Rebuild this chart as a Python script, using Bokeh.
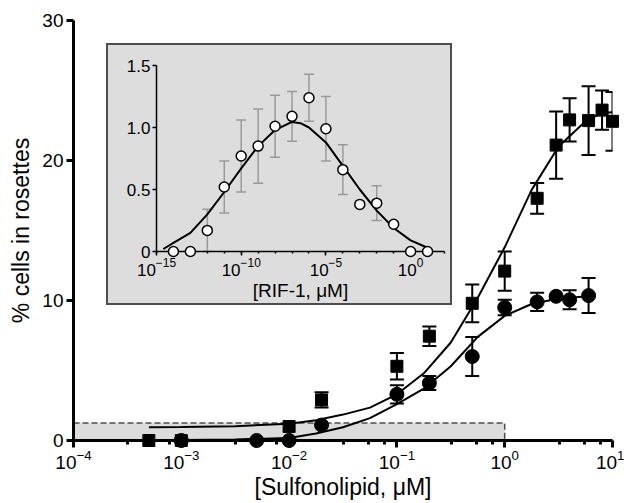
import numpy as np
from bokeh.plotting import figure
from bokeh.models import Range1d, FixedTicker, Whisker, TeeHead, ColumnDataSource, GridBox, Div
from bokeh.embed import file_html
from bokeh.resources import INLINE

# ---------------- data ----------------
# main panel: squares series
sq_conc = [5e-4, 1e-3, 1e-2, 2e-2, 0.1, 0.2, 0.5, 1, 2, 3, 4, 6, 8, 10]
sq_mean = [0, 0, 1.0, 2.9, 5.3, 7.45, 9.8, 12.1, 17.3, 21.1, 22.9, 22.85, 23.6, 22.8]
sq_err = [0, 0, 0, 0.55, 0.95, 0.7, 1.35, 1.4, 1.1, 2.4, 1.55, 2.45, 1.4, 2.1]
# main panel: circles series
ci_conc = [1e-3, 5e-3, 1e-2, 2e-2, 0.1, 0.2, 0.5, 1, 2, 3, 4, 6]
ci_mean = [0, 0, 0, 1.1, 3.3, 4.1, 6.0, 9.5, 9.9, 10.3, 10.05, 10.35]
ci_err = [0, 0, 0, 0, 0.65, 0.5, 1.4, 0.55, 0.65, 0, 0.68, 1.25]
# fitted curves (log10 concentration, value)
sq_fit_log = [-3.3, -3.0, -2.5, -2.0, -1.75, -1.5, -1.25, -1.0, -0.75, -0.5, -0.25, 0.0, 0.25, 0.5, 0.75, 0.9, 1.0]
sq_fit_val = [0.95, 0.96, 1.02, 1.2, 1.45, 1.85, 2.35, 3.3, 4.8, 7.0, 10.2, 13.8, 17.9, 21.0, 22.8, 23.4, 23.45]
ci_fit_log = [-3.3, -3.0, -2.5, -2.0, -1.75, -1.5, -1.25, -1.0, -0.75, -0.5, -0.25, 0.0, 0.25, 0.5, 0.78]
ci_fit_val = [0.02, 0.04, 0.08, 0.18, 0.5, 0.95, 1.6, 2.6, 3.7, 5.3, 7.4, 8.9, 9.75, 10.15, 10.3]
# shaded region on main panel
shade_conc = [1e-4, 1.0]
shade_level = [0.0, 1.25]
# main axes
main_x_ticks = [1e-4, 1e-3, 1e-2, 1e-1, 1e0, 1e1]
main_y_ticks = [0, 10, 20, 30]

# inset: RIF-1
rif_conc = [1e-14, 1e-13, 1e-12, 1e-11, 1e-10, 1e-9, 1e-8, 1e-7, 1e-6, 1e-5, 1e-4, 1e-3, 1e-2, 1e-1, 1e0, 1e1]
rif_mean = [0, 0, 0.17, 0.52, 0.77, 0.85, 1.01, 1.09, 1.24, 0.99, 0.66, 0.38, 0.39, 0.22, 0, 0]
rif_err = [0, 0, 0.17, 0.21, 0.29, 0.30, 0.25, 0.20, 0.19, 0.26, 0.20, 0, 0.14, 0, 0, 0]
rif_fit_log = [-14.6, -14, -13, -12, -11, -10, -9, -8, -7, -6.5, -6, -5, -4, -3, -2, -1, 0, 1]
rif_fit_val = [0.02, 0.07, 0.15, 0.30, 0.48, 0.67, 0.85, 0.98, 1.045, 1.035, 1.00, 0.88, 0.69, 0.50, 0.33, 0.19, 0.09, 0.03]
inset_x_ticks = [1e-15, 1e-10, 1e-5, 1e0]
inset_y_ticks = [0, 0.5, 1.0, 1.5]
inset_y_labels = ["0", "0.5", "1.0", "1.5"]

FONT = "Liberation Sans"


def style_axis(ax, lw, tick_out, minor_out, label_size, title_size):
    ax.axis_line_width = lw
    ax.axis_line_color = "black"
    ax.major_tick_line_width = lw
    ax.minor_tick_line_width = lw
    ax.major_tick_in = 0
    ax.minor_tick_in = 0
    ax.major_tick_out = tick_out
    ax.minor_tick_out = minor_out
    ax.major_label_text_font = FONT
    ax.major_label_text_font_size = label_size
    ax.major_label_text_color = "black"
    ax.axis_label_text_font = FONT
    ax.axis_label_text_font_size = title_size
    ax.axis_label_text_font_style = "normal"
    ax.axis_label_text_color = "black"


def add_errors(fig, xs, ys, es, color, width, cap, level):
    keep = [i for i, e in enumerate(es) if e > 0]
    src = ColumnDataSource(dict(
        x=[xs[i] for i in keep],
        lo=[ys[i] - es[i] for i in keep],
        hi=[ys[i] + es[i] for i in keep],
    ))
    w = Whisker(source=src, base="x", lower="lo", upper="hi",
                line_color=color, line_width=width, level=level,
                upper_head=TeeHead(size=cap, line_color=color, line_width=width),
                lower_head=TeeHead(size=cap, line_color=color, line_width=width))
    fig.add_layout(w)


# ---------------- main figure ----------------
W, H = 624, 503
p = figure(width=W, height=H, x_axis_type="log",
           x_range=Range1d(main_x_ticks[0], main_x_ticks[-1]),
           y_range=Range1d(main_y_ticks[0], main_y_ticks[-1]),
           output_backend="svg", toolbar_location=None,
           min_border_left=73, min_border_right=12, min_border_top=20, min_border_bottom=63,
           background_fill_color="white", border_fill_color="white", outline_line_color=None)
p.grid.visible = False

minor = []
for k in range(-4, 1):
    for m in (3.2, 5.5, 7.7):
        minor.append(m * 10.0 ** k)
p.xaxis.ticker = FixedTicker(ticks=main_x_ticks, minor_ticks=minor)
p.yaxis.ticker = FixedTicker(ticks=main_y_ticks, minor_ticks=[])
style_axis(p.xaxis[0], 3, 7, 4, "19px", "23px")
style_axis(p.yaxis[0], 3, 7, 0, "19px", "23px")
p.xaxis.axis_label = "[Sulfonolipid, \u03bcM]"
p.yaxis.axis_label = "% cells in rosettes"
p.xaxis.major_label_standoff = 2
p.xaxis.axis_label_standoff = 2
p.yaxis.major_label_standoff = 3
p.yaxis.axis_label_standoff = 5

p.quad(left=shade_conc[0], right=shade_conc[1], bottom=shade_level[0], top=shade_level[1],
       fill_color="#dcdcdc", line_color="#4d4d4d", line_dash="6 3", line_width=1.5, level="underlay")

p.line(10.0 ** np.array(sq_fit_log), sq_fit_val, line_color="black", line_width=2)
p.line(10.0 ** np.array(ci_fit_log), ci_fit_val, line_color="black", line_width=2)

add_errors(p, sq_conc, sq_mean, sq_err, "black", 2, 14, "annotation")
add_errors(p, ci_conc, ci_mean, ci_err, "black", 2, 14, "annotation")

p.scatter(sq_conc, sq_mean, marker="square", size=12, fill_color="black", line_color="black", level="overlay")
p.scatter(ci_conc, ci_mean, marker="circle", size=14, fill_color="black", line_color="black", level="overlay")

# ---------------- inset figure ----------------
GRAY = "#dddddd"
IW, IH = 346, 262
BW = 2  # border width of the inset box
q = figure(width=IW - 2 * BW, height=IH - 2 * BW, x_axis_type="log",
           x_range=Range1d(1e-15, 1e2), y_range=Range1d(inset_y_ticks[0], inset_y_ticks[-1]),
           output_backend="svg", toolbar_location=None, align="center",
           min_border_left=50 - BW, min_border_right=8 - BW, min_border_top=22 - BW,
           min_border_bottom=54 - BW,
           background_fill_color=None, border_fill_color=GRAY, outline_line_color=None)
q.grid.visible = False
q.xaxis.ticker = FixedTicker(ticks=inset_x_ticks, minor_ticks=[10.0 ** k for k in range(-15, 3)])
q.yaxis.ticker = FixedTicker(ticks=inset_y_ticks, minor_ticks=[])
q.yaxis.major_label_overrides = {t: s for t, s in zip(inset_y_ticks, inset_y_labels)}
style_axis(q.xaxis[0], 1.5, 4, 2, "17px", "19px")
style_axis(q.yaxis[0], 1.5, 4, 0, "17px", "19px")
q.xaxis.axis_label = "[RIF-1, \u03bcM]"
q.xaxis.major_label_standoff = 2
q.xaxis.axis_label_standoff = 1
q.yaxis.major_label_standoff = 2

add_errors(q, rif_conc, rif_mean, rif_err, "#9a9a9a", 1.5, 10, "underlay")
q.line(10.0 ** np.array(rif_fit_log), rif_fit_val, line_color="black", line_width=2)
q.scatter(rif_conc, rif_mean, marker="circle", size=10, fill_color="white", line_color="black",
          line_width=1.5, level="overlay")

# gray backing box with a dark rim, behind the inset
frame_div = Div(text="", width=IW, height=IH,
                styles={"background-color": GRAY, "box-shadow": "inset 0 0 0 %dpx #4d4d4d" % BW,
                        "overflow": "hidden", "padding": "0", "margin": "0"})

grid = GridBox(children=[(p, 0, 0, 3, 3), (frame_div, 1, 1, 1, 1), (q, 1, 1, 1, 1)],
               rows=["43px", "%dpx" % IH, "%dpx" % (H - 43 - IH)],
               cols=["106px", "%dpx" % IW, "%dpx" % (W - 106 - IW)], spacing=0)

open("out.html", "w").write(file_html(grid, INLINE))
